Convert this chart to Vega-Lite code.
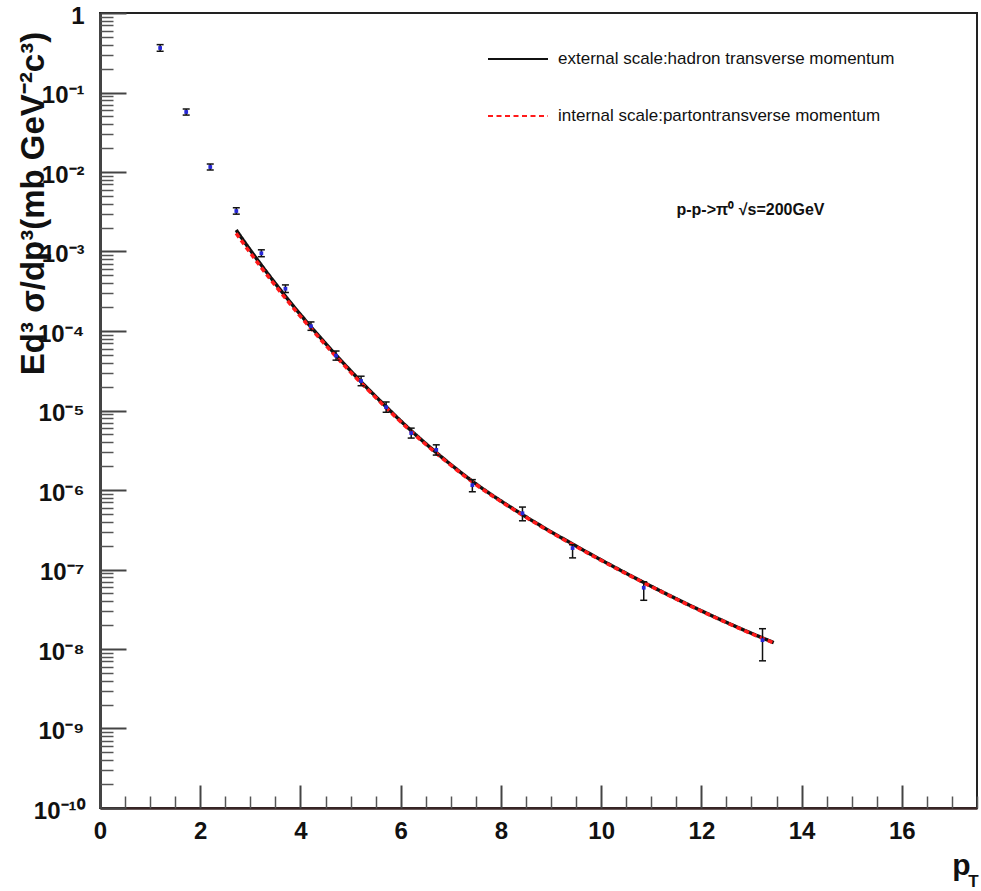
{
  "$schema": "https://vega.github.io/schema/vega-lite/v6.json",
  "width": 877,
  "height": 795,
  "autosize": {"type": "none"},
  "padding": {"left": 100, "top": 13, "right": 4, "bottom": 83},
  "background": "white",
  "config": {
    "view": {"stroke": "#222", "strokeWidth": 2},
    "axis": {"grid": false, "labelFlush": false}
  },
  "datasets": {
    "curves": [
      {"pT": 2.717, "val": 1.862e-3, "model": "external scale:hadron transverse momentum"},
      {"pT": 2.956, "val": 1.135e-3, "model": "external scale:hadron transverse momentum"},
      {"pT": 3.216, "val": 6.78e-4, "model": "external scale:hadron transverse momentum"},
      {"pT": 3.456, "val": 4.29e-4, "model": "external scale:hadron transverse momentum"},
      {"pT": 3.716, "val": 2.655e-4, "model": "external scale:hadron transverse momentum"},
      {"pT": 3.955, "val": 1.738e-4, "model": "external scale:hadron transverse momentum"},
      {"pT": 4.215, "val": 1.117e-4, "model": "external scale:hadron transverse momentum"},
      {"pT": 4.714, "val": 4.94e-5, "model": "external scale:hadron transverse momentum"},
      {"pT": 5.214, "val": 2.286e-5, "model": "external scale:hadron transverse momentum"},
      {"pT": 5.713, "val": 1.109e-5, "model": "external scale:hadron transverse momentum"},
      {"pT": 6.213, "val": 5.55e-6, "model": "external scale:hadron transverse momentum"},
      {"pT": 6.712, "val": 2.95e-6, "model": "external scale:hadron transverse momentum"},
      {"pT": 7.431, "val": 1.288e-6, "model": "external scale:hadron transverse momentum"},
      {"pT": 8.430, "val": 4.90e-7, "model": "external scale:hadron transverse momentum"},
      {"pT": 9.429, "val": 2.09e-7, "model": "external scale:hadron transverse momentum"},
      {"pT": 10.847, "val": 6.89e-8, "model": "external scale:hadron transverse momentum"},
      {"pT": 11.986, "val": 3.05e-8, "model": "external scale:hadron transverse momentum"},
      {"pT": 13.224, "val": 1.374e-8, "model": "external scale:hadron transverse momentum"},
      {"pT": 13.444, "val": 1.205e-8, "model": "external scale:hadron transverse momentum"},
      {"pT": 2.717, "val": 1.694e-3, "model": "internal scale:partontransverse momentum"},
      {"pT": 2.956, "val": 1.044e-3, "model": "internal scale:partontransverse momentum"},
      {"pT": 3.216, "val": 6.31e-4, "model": "internal scale:partontransverse momentum"},
      {"pT": 3.456, "val": 4.03e-4, "model": "internal scale:partontransverse momentum"},
      {"pT": 3.716, "val": 2.509e-4, "model": "internal scale:partontransverse momentum"},
      {"pT": 3.955, "val": 1.651e-4, "model": "internal scale:partontransverse momentum"},
      {"pT": 4.215, "val": 1.067e-4, "model": "internal scale:partontransverse momentum"},
      {"pT": 4.714, "val": 4.74e-5, "model": "internal scale:partontransverse momentum"},
      {"pT": 5.214, "val": 2.206e-5, "model": "internal scale:partontransverse momentum"},
      {"pT": 5.713, "val": 1.076e-5, "model": "internal scale:partontransverse momentum"},
      {"pT": 6.213, "val": 5.41e-6, "model": "internal scale:partontransverse momentum"},
      {"pT": 6.712, "val": 2.89e-6, "model": "internal scale:partontransverse momentum"},
      {"pT": 7.431, "val": 1.262e-6, "model": "internal scale:partontransverse momentum"},
      {"pT": 8.430, "val": 4.83e-7, "model": "internal scale:partontransverse momentum"},
      {"pT": 9.429, "val": 2.06e-7, "model": "internal scale:partontransverse momentum"},
      {"pT": 10.847, "val": 6.82e-8, "model": "internal scale:partontransverse momentum"},
      {"pT": 11.986, "val": 3.02e-8, "model": "internal scale:partontransverse momentum"},
      {"pT": 13.224, "val": 1.36e-8, "model": "internal scale:partontransverse momentum"},
      {"pT": 13.444, "val": 1.193e-8, "model": "internal scale:partontransverse momentum"}
    ],
    "pts": [
      {"pT": 1.20, "val": 0.363, "lo": 0.33, "hi": 0.40},
      {"pT": 1.72, "val": 0.0569, "lo": 0.052, "hi": 0.062},
      {"pT": 2.20, "val": 0.01156, "lo": 0.0106, "hi": 0.0126},
      {"pT": 2.72, "val": 3.23e-3, "lo": 2.95e-3, "hi": 3.55e-3},
      {"pT": 3.22, "val": 9.5e-4, "lo": 8.6e-4, "hi": 1.05e-3},
      {"pT": 3.70, "val": 3.4e-4, "lo": 3.05e-4, "hi": 3.8e-4},
      {"pT": 4.21, "val": 1.15e-4, "lo": 1.02e-4, "hi": 1.3e-4},
      {"pT": 4.71, "val": 4.9e-5, "lo": 4.3e-5, "hi": 5.6e-5},
      {"pT": 5.21, "val": 2.35e-5, "lo": 2.05e-5, "hi": 2.7e-5},
      {"pT": 5.71, "val": 1.1e-5, "lo": 9.5e-6, "hi": 1.28e-5},
      {"pT": 6.21, "val": 5.2e-6, "lo": 4.5e-6, "hi": 6.0e-6},
      {"pT": 6.71, "val": 3.2e-6, "lo": 2.75e-6, "hi": 3.7e-6},
      {"pT": 7.43, "val": 1.15e-6, "lo": 9.5e-7, "hi": 1.35e-6},
      {"pT": 8.43, "val": 5.1e-7, "lo": 4.1e-7, "hi": 6.1e-7},
      {"pT": 9.43, "val": 1.86e-7, "lo": 1.4e-7, "hi": 2.05e-7},
      {"pT": 10.85, "val": 5.9e-8, "lo": 4.1e-8, "hi": 7.0e-8},
      {"pT": 13.22, "val": 1.29e-8, "lo": 7.1e-9, "hi": 1.8e-8}
    ],
    "note": [
      {"pT": 12.98, "val": 3.33e-3, "label": "p-p->π⁰ √s=200GeV"}
    ]
  },
  "layer": [
    {
      "data": {"name": "curves"},
      "mark": {"type": "line", "strokeWidth": 3.5, "interpolate": "monotone"},
      "encoding": {
        "x": {
          "field": "pT", "type": "quantitative",
          "scale": {"domain": [0, 17.5], "nice": false, "zero": false},
          "axis": {
            "orient": "bottom", "values": [0, 2, 4, 6, 8, 10, 12, 14, 16],
            "ticks": false, "domain": true, "domainColor": "#3a2626", "domainWidth": 2.5,
            "labelFont": "Liberation Sans", "labelFontSize": 24, "labelFontWeight": "bold",
            "labelColor": "#111", "labelPadding": 11, "format": "d",
            "title": "p", "titleFont": "Liberation Sans", "titleFontSize": 30, "titleFontWeight": "bold",
            "titleColor": "#111", "titleX": 861, "titleY": 66, "titleAlign": "center", "titleBaseline": "alphabetic"
          }
        },
        "y": {
          "field": "val", "type": "quantitative",
          "scale": {"type": "log", "domain": [1e-10, 1], "nice": false},
          "axis": {
            "orient": "left",
            "values": [1, 0.1, 0.01, 0.001, 0.0001, 1e-5, 1e-6, 1e-7, 1e-8, 1e-9, 1e-10],
            "ticks": false, "domain": true, "domainColor": "#444", "domainWidth": 3,
            "labelFont": "Liberation Sans", "labelFontSize": 24, "labelFontWeight": "bold",
            "labelColor": "#111", "labelPadding": 16, "labelAlign": "right", "labelBaseline": "middle", "labelOffset": 3,
            "labelExpr": "datum.value >= 0.5 ? '1' : '10⁻' + (round(-log(datum.value)/LN10) == 10 ? '¹⁰' : ['⁰','¹','²','³','⁴','⁵','⁶','⁷','⁸','⁹'][round(-log(datum.value)/LN10)])",
            "title": "Ed³ σ/dp³(mb GeV⁻²c³)", "titleFont": "Liberation Sans", "titleFontSize": 33, "titleFontWeight": "bold",
            "titleColor": "#111", "titleX": -67, "titleY": 190, "titleAngle": -90, "titleAlign": "center", "titleBaseline": "middle"
          }
        },
        "color": {
          "field": "model", "type": "nominal",
          "scale": {"domain": ["external scale:hadron transverse momentum", "internal scale:partontransverse momentum"], "range": ["#111111", "#ff1a1a"]},
          "legend": {
            "orient": "none", "legendX": 387, "legendY": 15, "title": null,
            "symbolType": "stroke", "symbolSize": 3600, "symbolStrokeWidth": 2,
            "labelFont": "Liberation Sans", "labelFontSize": 17, "labelColor": "#111", "labelLimit": 0,
            "labelOffset": 9, "rowPadding": 18, "padding": 0
          }
        },
        "strokeDash": {
          "field": "model", "type": "nominal",
          "scale": {"domain": ["external scale:hadron transverse momentum", "internal scale:partontransverse momentum"], "range": [[1, 0], [5, 3.5]]},
          "legend": {
            "orient": "none", "legendX": 387, "legendY": 15, "title": null,
            "symbolType": "stroke", "symbolSize": 3600, "symbolStrokeWidth": 2,
            "labelFont": "Liberation Sans", "labelFontSize": 17, "labelColor": "#111", "labelLimit": 0,
            "labelOffset": 9, "rowPadding": 18, "padding": 0
          }
        }
      }
    },
    {
      "data": {"name": "pts"},
      "mark": {"type": "rule", "color": "#111", "strokeWidth": 1.5},
      "encoding": {
        "x": {
          "field": "pT", "type": "quantitative",
          "axis": {
            "orient": "bottom", "values": [0, 2, 4, 6, 8, 10, 12, 14, 16],
            "labels": false, "domain": false, "ticks": true, "tickSize": -23, "tickWidth": 2, "tickColor": "#444", "title": null
          }
        },
        "y": {
          "field": "lo", "type": "quantitative",
          "axis": {
            "orient": "left", "values": [1, 0.1, 0.01, 0.001, 0.0001, 1e-5, 1e-6, 1e-7, 1e-8, 1e-9, 1e-10],
            "labels": false, "domain": false, "ticks": true, "tickSize": -26, "tickWidth": 2, "tickColor": "#444", "title": null
          }
        },
        "y2": {"field": "hi"}
      }
    },
    {
      "data": {"name": "pts"},
      "mark": {"type": "point", "shape": "stroke", "size": 49, "filled": false, "stroke": "#111", "strokeWidth": 1.5, "opacity": 1},
      "encoding": {
        "x": {
          "field": "pT", "type": "quantitative",
          "axis": {
            "orient": "bottom",
            "values": [0.5, 1, 1.5, 2.5, 3, 3.5, 4.5, 5, 5.5, 6.5, 7, 7.5, 8.5, 9, 9.5, 10.5, 11, 11.5, 12.5, 13, 13.5, 14.5, 15, 15.5, 16.5, 17, 17.5],
            "labels": false, "domain": false, "ticks": true, "tickSize": -12, "tickWidth": 1.5, "tickColor": "#555",
            "title": "T", "titleFont": "Liberation Sans", "titleFontSize": 17, "titleFontWeight": "bold",
            "titleColor": "#111", "titleX": 873, "titleY": 78, "titleAlign": "center", "titleBaseline": "alphabetic"
          }
        },
        "y": {
          "field": "lo", "type": "quantitative",
          "axis": {
            "orient": "left",
            "values": [9e-1, 8e-1, 7e-1, 6e-1, 5e-1, 4e-1, 3e-1, 2e-1,
                       9e-2, 8e-2, 7e-2, 6e-2, 5e-2, 4e-2, 3e-2, 2e-2,
                       9e-3, 8e-3, 7e-3, 6e-3, 5e-3, 4e-3, 3e-3, 2e-3,
                       9e-4, 8e-4, 7e-4, 6e-4, 5e-4, 4e-4, 3e-4, 2e-4,
                       9e-5, 8e-5, 7e-5, 6e-5, 5e-5, 4e-5, 3e-5, 2e-5,
                       9e-6, 8e-6, 7e-6, 6e-6, 5e-6, 4e-6, 3e-6, 2e-6,
                       9e-7, 8e-7, 7e-7, 6e-7, 5e-7, 4e-7, 3e-7, 2e-7,
                       9e-8, 8e-8, 7e-8, 6e-8, 5e-8, 4e-8, 3e-8, 2e-8,
                       9e-9, 8e-9, 7e-9, 6e-9, 5e-9, 4e-9, 3e-9, 2e-9,
                       9e-10, 8e-10, 7e-10, 6e-10, 5e-10, 4e-10, 3e-10, 2e-10],
            "labels": false, "domain": false, "ticks": true, "tickSize": -13, "tickWidth": 1.5, "tickColor": "#555", "title": null
          }
        }
      }
    },
    {
      "data": {"name": "pts"},
      "mark": {"type": "point", "shape": "stroke", "size": 49, "filled": false, "stroke": "#111", "strokeWidth": 1.5, "opacity": 1},
      "encoding": {
        "x": {"field": "pT", "type": "quantitative", "axis": null},
        "y": {"field": "hi", "type": "quantitative", "axis": null}
      }
    },
    {
      "data": {"name": "pts"},
      "mark": {"type": "point", "shape": "square", "filled": true, "color": "#2828d8", "size": 14, "opacity": 1},
      "encoding": {
        "x": {"field": "pT", "type": "quantitative", "axis": null},
        "y": {"field": "val", "type": "quantitative", "axis": null}
      }
    },
    {
      "data": {"name": "note"},
      "mark": {"type": "text", "font": "Liberation Sans", "fontSize": 16, "fontWeight": "bold", "align": "center", "baseline": "middle", "color": "#111"},
      "encoding": {
        "x": {"field": "pT", "type": "quantitative", "axis": null},
        "y": {"field": "val", "type": "quantitative", "axis": null},
        "text": {"field": "label"}
      }
    }
  ],
  "resolve": {"axis": {"x": "independent", "y": "independent"}}
}
